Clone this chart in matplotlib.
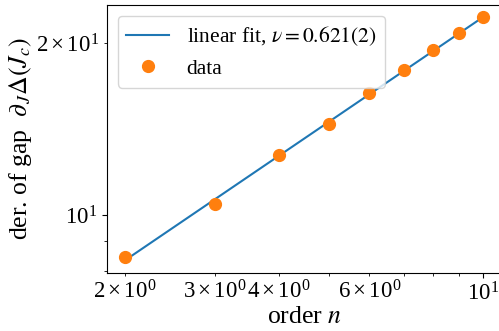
import numpy as np
import matplotlib
matplotlib.use('Agg')
import matplotlib.pyplot as plt

plt.rcParams['font.family'] = 'serif'
plt.rcParams['font.serif'] = ['Liberation Serif', 'DejaVu Serif']
plt.rcParams['mathtext.fontset'] = 'stix'

# derivative of the gap at J_c vs. truncation order
order = np.array([2, 3, 4, 5, 6, 7, 8, 9, 10])
dgap = np.array([8.46, 10.44, 12.75, 14.43, 16.32, 17.91, 19.43, 20.78, 22.22])
fit_label = r'linear fit, $\nu = 0.621(2)$'

# straight line in log-log space
p = np.polyfit(np.log(order), np.log(dgap), 1)
nfit = np.linspace(order[0], order[-1], 50)
yfit = np.exp(np.polyval(p, np.log(nfit)))

fig = plt.figure(figsize=(4.99, 3.31), dpi=100)
ax = fig.add_axes([107/499, 1 - 273/331, 394/499, 268/331])

ax.plot(nfit, yfit, color='C0', lw=1.5, label=fit_label)
ax.plot(order, dgap, 'o', color='C1', ms=8.5, label='data')

ax.set_xscale('log')
ax.set_yscale('log')
ax.set_xlim(1.845, 10.85)
ax.set_ylim(7.92, 23.3)

ax.tick_params(which='both', labelsize=16.5)
ax.set_xlabel(r'order $n$', fontsize=18.5, labelpad=0)
ax.set_ylabel(r'der. of gap  $\partial_J\Delta(J_c)$', fontsize=18.5, labelpad=2)
ax.legend(loc='upper left', fontsize=15.5)

fig.savefig('out.png', dpi=100)
